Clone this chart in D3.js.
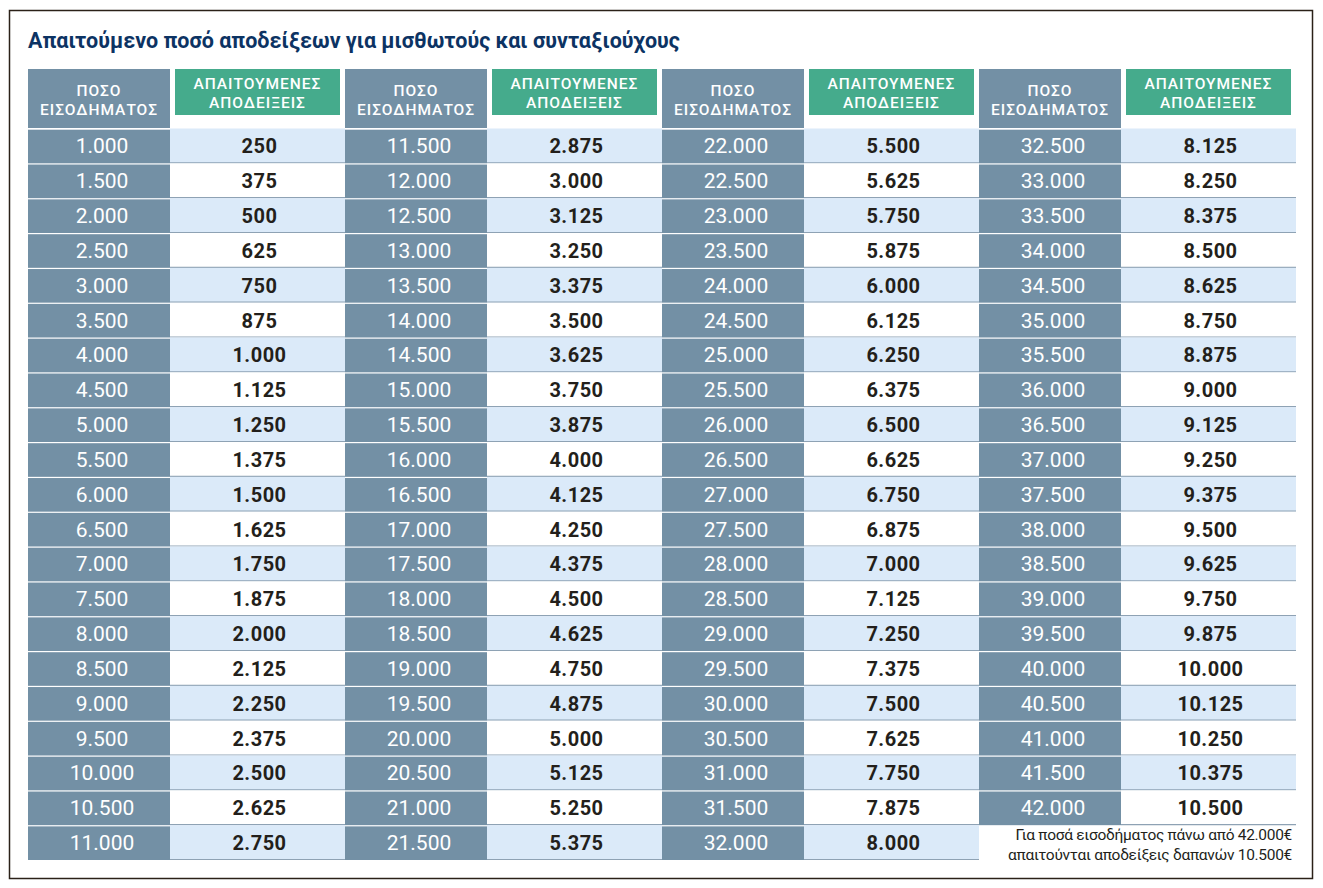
<!DOCTYPE html>
<html>
<head>
<meta charset="utf-8">
<title>Απαιτούμενο ποσό αποδείξεων</title>
<script src="https://cdn.jsdelivr.net/npm/d3@7"></script>
<style>
	body{margin:0;background:#fff;}
	svg{display:block;font-family:Roboto, "Noto Sans", sans-serif;}
</style>
</head>
<body>
<svg></svg>
<script>
// income / receipts per column group

const income1=[1000,1500,2000,2500,3000,3500,4000,4500,5000,5500,6000,6500,7000,7500,8000,8500,9000,9500,10000,10500,11000]
const receipts1=[250,375,500,625,750,875,1000,1125,1250,1375,1500,1625,1750,1875,2000,2125,2250,2375,2500,2625,2750]

const income2=[11500,12000,12500,13000,13500,14000,14500,15000,15500,16000,16500,17000,17500,18000,18500,19000,19500,20000,20500,21000,21500]
const receipts2=[2875,3000,3125,3250,3375,3500,3625,3750,3875,4000,4125,4250,4375,4500,4625,4750,4875,5000,5125,5250,5375]

const income3=[22000,22500,23000,23500,24000,24500,25000,25500,26000,26500,27000,27500,28000,28500,29000,29500,30000,30500,31000,31500,32000]
const receipts3=[5500,5625,5750,5875,6000,6125,6250,6375,6500,6625,6750,6875,7000,7125,7250,7375,7500,7625,7750,7875,8000]

const income4=[32500,33000,33500,34000,34500,35000,35500,36000,36500,37000,37500,38000,38500,39000,39500,40000,40500,41000,41500,42000]
const receipts4=[8125,8250,8375,8500,8625,8750,8875,9000,9125,9250,9375,9500,9625,9750,9875,10000,10125,10250,10375,10500]

const incomeHeader=["ΠΟΣΟ","ΕΙΣΟΔΗΜΑΤΟΣ"]
const receiptsHeader=["ΑΠΑΙΤΟΥΜΕΝΕΣ","ΑΠΟΔΕΙΞΕΙΣ"]
const title="Απαιτούμενο ποσό αποδείξεων για μισθωτούς και συνταξιούχους"
const note=["Για ποσά εισοδήματος πάνω από 42.000€","απαιτούνται αποδείξεις δαπανών 10.500€"]

const groups=[
	{income:income1, receipts:receipts1},
	{income:income2, receipts:receipts2},
	{income:income3, receipts:receipts3},
	{income:income4, receipts:receipts4}
]

const slate="#7390a5"
const green="#45ab8c"
const lightBlue="#dbeaf9"
const lineGray="#8ea2b4"
const dark="#231f1b"

//greek number format: 1.000
const fmt=d3.formatLocale({decimal:",", thousands:".", grouping:[3], currency:["","€"]}).format(",d")

const svg=d3.select("svg")
	.attr("width",1323)
	.attr("height",888)
	.attr("viewBox","0 0 1323 888")

//frame
svg.append("rect")
	.attr("x",9.5).attr("y",10.5)
	.attr("width",1303).attr("height",868)
	.attr("fill","none")
	.attr("stroke","#2b2118")
	.attr("stroke-width",1.5)

svg.append("text")
	.attr("x",28).attr("y",48)
	.attr("fill","#0c3363")
	.style("font-size","21.5px")
	.style("font-weight",700)
	.text(title)

//scales
const nRows=d3.max(groups, g=>g.income.length)
const x=d3.scaleBand().domain(d3.range(groups.length)).range([28,1296])
const y=d3.scaleBand().domain(d3.range(nRows)).range([128.5,860])
const incomeW=142
const rowH=y.bandwidth()

const g=svg.selectAll("g.group")
	.data(groups)
	.enter()
	.append("g")
	.attr("class","group")
	.attr("transform",(d,i)=>"translate("+x(i)+",0)")

//headers
g.append("rect")
	.attr("x",0).attr("y",69)
	.attr("width",incomeW).attr("height",59)
	.attr("fill",slate)

g.append("rect")
	.attr("x",incomeW+5).attr("y",69)
	.attr("width",x.step()-incomeW-10).attr("height",46)
	.attr("fill",green)

g.selectAll("text.ih")
	.data(incomeHeader)
	.enter()
	.append("text")
	.attr("class","ih")
	.attr("x",incomeW/2)
	.attr("y",(d,i)=>96+i*19)
	.attr("text-anchor","middle")
	.attr("fill","#fff")
	.style("font-size","15.5px")
	.style("font-weight",500)
	.style("letter-spacing","1px")
	.text(d=>d)

g.selectAll("text.rh")
	.data(receiptsHeader)
	.enter()
	.append("text")
	.attr("class","rh")
	.attr("x",incomeW+(x.step()-incomeW)/2)
	.attr("y",(d,i)=>89+i*19)
	.attr("text-anchor","middle")
	.attr("fill","#fff")
	.style("font-size","15.5px")
	.style("font-weight",500)
	.style("letter-spacing","1px")
	.text(d=>d)

//rows
const rows=g.selectAll("g.row")
	.data(d=>d.income.map((v,i)=>({income:v, receipt:d.receipts[i], i:i})))
	.enter()
	.append("g")
	.attr("class","row")
	.attr("transform",d=>"translate(0,"+y(d.i)+")")

rows.append("rect")
	.attr("x",incomeW).attr("y",0)
	.attr("width",x.step()-incomeW).attr("height",rowH)
	.attr("fill",d=>d.i%2==0 ? lightBlue : "#fff")

rows.append("line")
	.attr("x1",incomeW).attr("x2",x.step())
	.attr("y1",rowH-0.5).attr("y2",rowH-0.5)
	.attr("stroke",lineGray)
	.attr("stroke-width",1.2)

rows.append("rect")
	.attr("x",0).attr("y",1.2)
	.attr("width",incomeW).attr("height",rowH-1.2)
	.attr("fill",slate)

rows.append("text")
	.attr("x",incomeW/2+3)
	.attr("y",rowH/2+7.5)
	.attr("text-anchor","middle")
	.attr("fill","#fff")
	.style("font-size","21px")
	.style("font-weight",400)
	.text(d=>fmt(d.income))

rows.append("text")
	.attr("x",incomeW+(x.step()-incomeW)/2+2)
	.attr("y",rowH/2+7.5)
	.attr("text-anchor","middle")
	.attr("fill",dark)
	.style("font-size","20px")
	.style("font-weight",700)
	.style("letter-spacing","0.5px")
	.text(d=>fmt(d.receipt))

//note under the last column
svg.selectAll("text.note")
	.data(note)
	.enter()
	.append("text")
	.attr("class","note")
	.attr("x",1292)
	.attr("y",(d,i)=>y(nRows-1)+15+i*20)
	.attr("text-anchor","end")
	.attr("fill",dark)
	.style("font-size","15.5px")
	.style("letter-spacing","-0.3px")
	.text(d=>d)
</script>
</body>
</html>
